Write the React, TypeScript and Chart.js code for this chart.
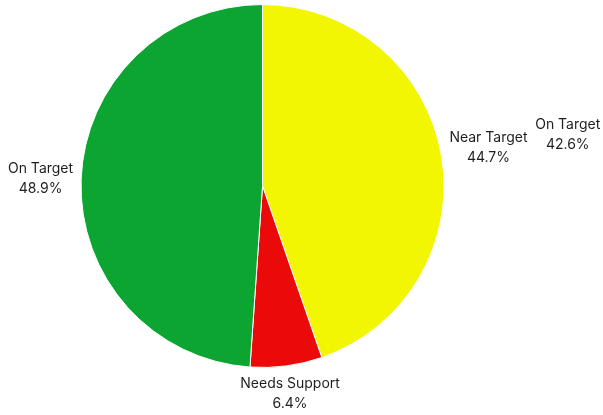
import React, { useEffect, useRef } from "react";
import { Chart, registerables } from "chart.js";

Chart.register(...registerables);

const categories = ["Near Target", "Needs Support", "On Target"];
const values = [44.7, 6.4, 48.9];
const colors = ["#f2f600", "#ea0a0a", "#0ca532"];
// extra callout label shown beside the first slice's label
const extraLabelTexts = ["On Target"];
const extraLabelValues = [42.6];
const extraLabelSlice = [0];

const FONT = "14px Inter, 'Noto Sans', sans-serif";
const LINE_H = 20;

function drawLabel(ctx: CanvasRenderingContext2D, cx: number, cy: number, ang: number, r: number, lines: string[]) {
  let w = 0;
  lines.forEach((l) => (w = Math.max(w, ctx.measureText(l).width)));
  const h = lines.length * LINE_H;
  const vx = Math.cos(ang);
  const vy = Math.sin(ang);
  const dx = Math.abs(vx) > 1e-6 ? w / 2 / Math.abs(vx) : Infinity;
  const dy = Math.abs(vy) > 1e-6 ? h / 2 / Math.abs(vy) : Infinity;
  const d = Math.min(dx, dy);
  const bx = cx + vx * (r + d);
  const by = cy + vy * (r + d);
  lines.forEach((l, i) => {
    ctx.fillText(l, bx, by - h / 2 + LINE_H / 2 + i * LINE_H);
  });
}

const labelPlugin = {
  id: "outerLabels",
  afterDatasetsDraw(chart: any) {
    const ctx: CanvasRenderingContext2D = chart.ctx;
    const meta = chart.getDatasetMeta(0);
    ctx.save();
    ctx.font = FONT;
    ctx.fillStyle = "#1f1f1f";
    ctx.textAlign = "center";
    ctx.textBaseline = "middle";
    meta.data.forEach((arc: any, i: number) => {
      const p = arc.getProps(["x", "y", "startAngle", "endAngle", "outerRadius"], true);
      const mid = (p.startAngle + p.endAngle) / 2;
      drawLabel(ctx, p.x, p.y, mid, p.outerRadius + 8, [categories[i], values[i].toFixed(1) + "%"]);
    });
    extraLabelTexts.forEach((t, j) => {
      const arc: any = meta.data[extraLabelSlice[j]];
      const p = arc.getProps(["x", "y", "startAngle", "endAngle", "outerRadius"], true);
      const mid = (p.startAngle + p.endAngle) / 2;
      drawLabel(ctx, p.x, p.y, mid, p.outerRadius + 95, [t, extraLabelValues[j].toFixed(1) + "%"]);
    });
    ctx.restore();
  },
};

export default function App() {
  const ref = useRef<HTMLCanvasElement>(null);
  useEffect(() => {
    document.body.style.margin = "0";
    const chart = new Chart(ref.current!, {
      type: "pie",
      data: {
        labels: categories,
        datasets: [
          {
            data: values,
            backgroundColor: colors,
            borderColor: "#ffffff",
            borderWidth: 1,
          },
        ],
      },
      options: {
        animation: false,
        responsive: false,
        layout: { padding: { top: 4, bottom: 47, left: 80.5, right: 158.5 } },
        plugins: { legend: { display: false }, tooltip: { enabled: false } },
      },
      plugins: [labelPlugin],
    });
    return () => chart.destroy();
  }, []);
  return (
    <div style={{ width: 603, height: 415 }}>
      <canvas ref={ref} width={603} height={415} />
    </div>
  );
}
